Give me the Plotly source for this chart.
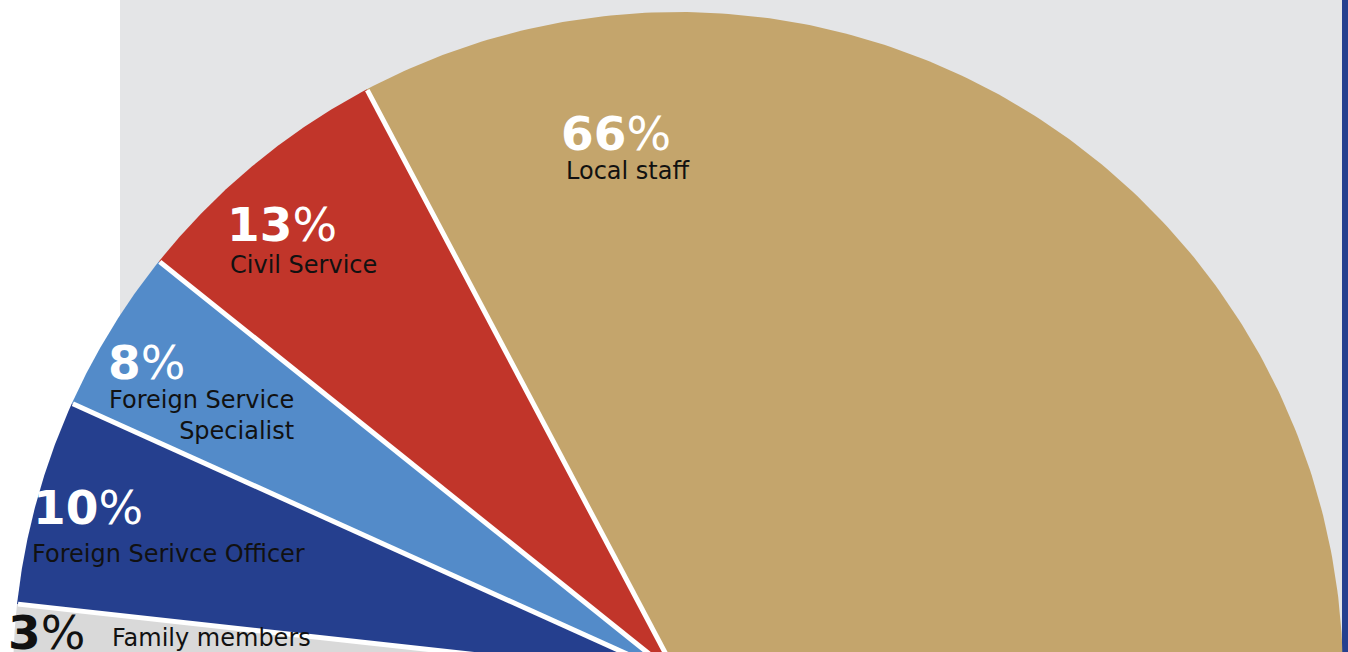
import numpy as np
import plotly.graph_objects as go

# workforce shares, drawn as a half pie (100% = 180 degrees), left to right
categories = ["Family members", "Foreign Serivce Officer", "Foreign Service Specialist",
              "Civil Service", "Local staff"]
shares = [3, 10, 8, 13, 66]
display_names = ["Family members", "Foreign Serivce Officer", "Foreign Service<br>Specialist",
                 "Civil Service", "Local staff"]
slice_colors = ["#d9d9d9", "#253f8e", "#538bc9", "#c1352a", "#c4a56c"]
number_colors = ["#111111", "#ffffff", "#ffffff", "#ffffff", "#ffffff"]

W, H = 1348, 652
cx, cy, R = 678, 677, 665   # centre sits just below the visible area
start_angle = 179.1

fig = go.Figure()

total = sum(shares)
start = start_angle
boundaries = []
for name, val, col in zip(categories, shares, slice_colors):
    sweep = val / total * 180.0
    end = start - sweep
    if name == categories[0]:
        start = 181.0   # first slice reaches below the horizontal (out of view)
    th = np.radians(np.linspace(start, end, 200))
    xs = np.concatenate([[cx], cx + R * np.cos(th), [cx]])
    ys = np.concatenate([[cy], cy - R * np.sin(th), [cy]])
    fig.add_trace(go.Scatter(
        x=xs, y=ys, mode="lines", fill="toself", fillcolor=col,
        line=dict(width=0), name=name, text=f"{name}: {val}%",
        hoverinfo="text", showlegend=False,
    ))
    start = end
    boundaries.append(end)

# white gaps between slices
for b in boundaries[:-1]:
    t = np.radians(b)
    fig.add_trace(go.Scatter(
        x=[cx, cx + (R - 1) * np.cos(t)], y=[cy, cy - (R - 1) * np.sin(t)],
        mode="lines", line=dict(color="white", width=5),
        hoverinfo="skip", showlegend=False,
    ))

# label placement (left edge / vertical middle, in pixels)
num_pos = [(6, 632), (31, 507), (106, 362), (225, 224), (559, 133)]
lab_pos = [(110, 638), (30, 554), (296, 415), (228, 265), (564, 171)]

for i in range(len(categories)):
    fig.add_annotation(
        x=num_pos[i][0], y=num_pos[i][1], xref="x", yref="y",
        text=f"<b>{shares[i]}</b>%", showarrow=False,
        xanchor="left", yanchor="middle",
        font=dict(family="DejaVu Sans", size=47, color=number_colors[i]),
    )
    two_lines = "<br>" in display_names[i]
    fig.add_annotation(
        x=lab_pos[i][0], y=lab_pos[i][1], xref="x", yref="y",
        text=display_names[i], showarrow=False,
        xanchor="right" if two_lines else "left", yanchor="middle",
        align="right" if two_lines else "left",
        font=dict(family="DejaVu Sans", size=24, color="#111111"),
    )

fig.update_layout(
    width=W, height=H,
    margin=dict(l=0, r=0, t=0, b=0),
    paper_bgcolor="white",
    plot_bgcolor="rgba(0,0,0,0)",
    xaxis=dict(range=[0, W], visible=False, fixedrange=True),
    yaxis=dict(range=[H, 0], visible=False, fixedrange=True),
    shapes=[
        dict(type="rect", xref="x", yref="y", x0=120, x1=1342, y0=0, y1=H,
             fillcolor="#e4e5e7", line=dict(width=0), layer="below"),
        dict(type="rect", xref="x", yref="y", x0=1342, x1=W, y0=0, y1=H,
             fillcolor="#25408f", line=dict(width=0), layer="below"),
    ],
)

fig.write_html("out.html", config={"displayModeBar": False},
               post_script="document.body.style.margin='0';")
